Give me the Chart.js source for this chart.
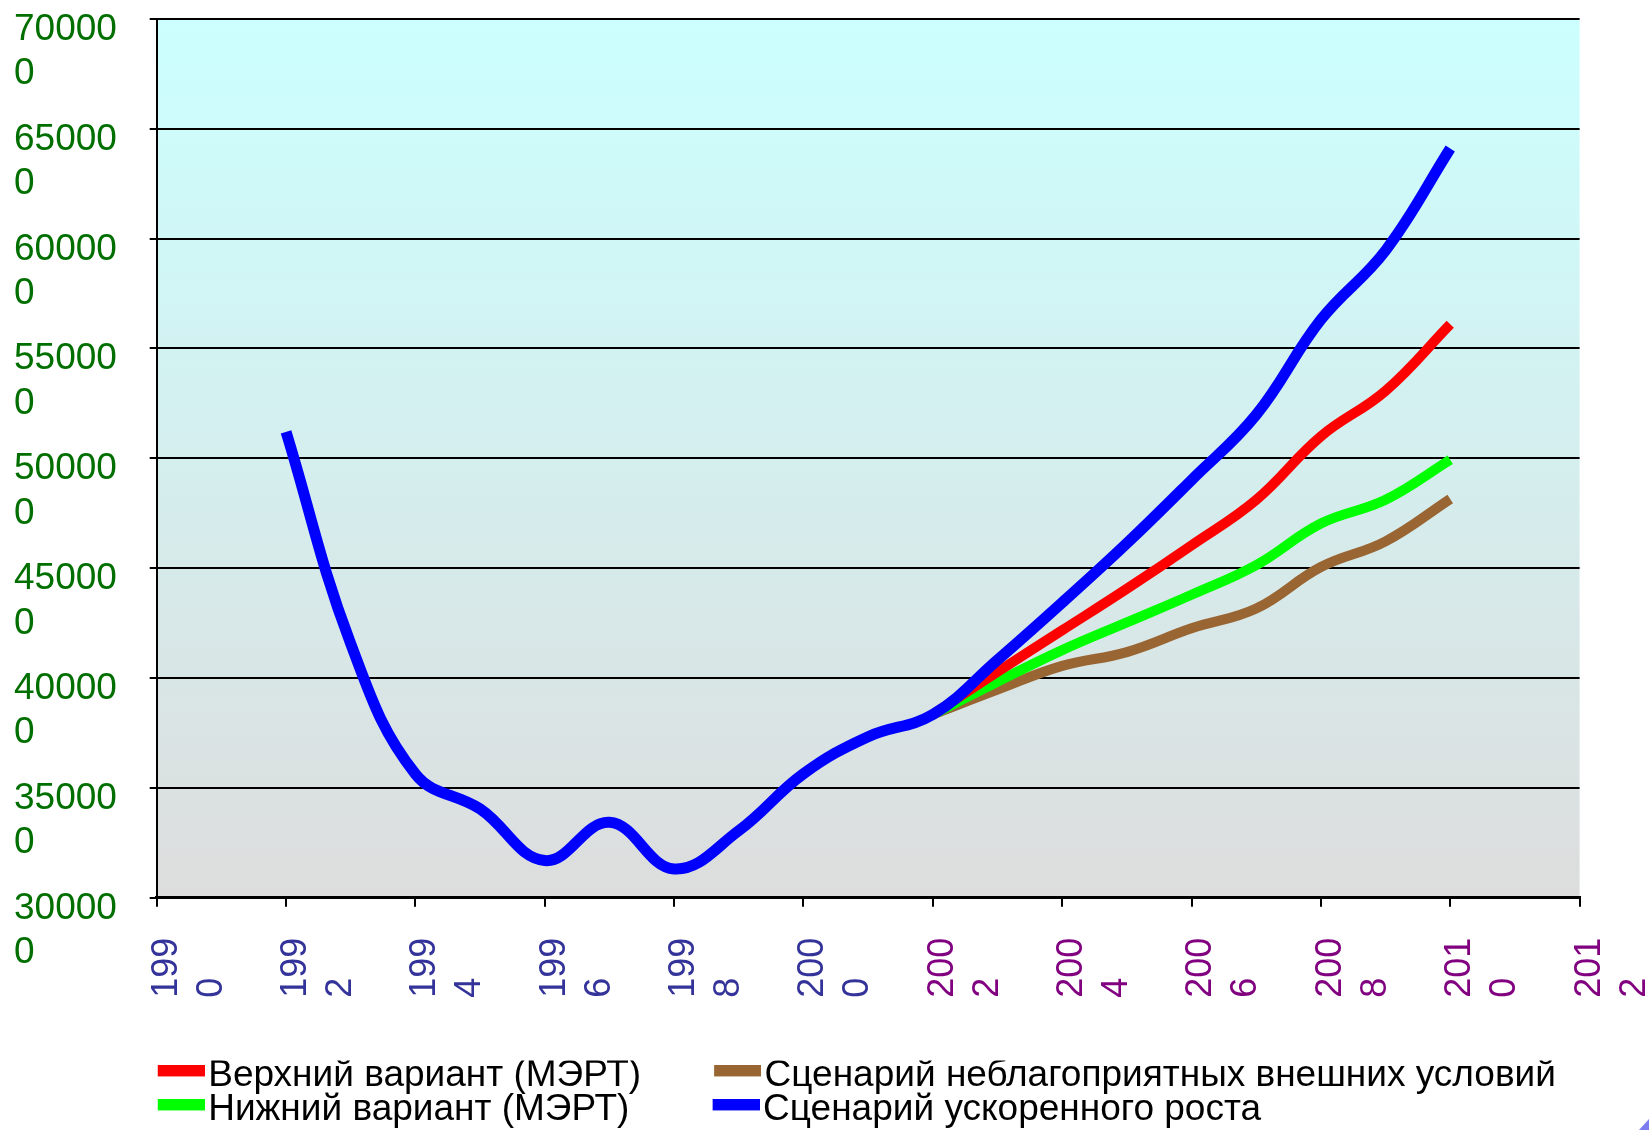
<!DOCTYPE html>
<html>
<head>
<meta charset="utf-8">
<script src="https://cdn.jsdelivr.net/npm/chart.js@4.4.1/dist/chart.umd.min.js"></script>
<style>
  html, body { margin: 0; padding: 0; background: #ffffff; }
  #wrap { width: 1649px; height: 1130px; position: relative; }
</style>
</head>
<body>
<div id="wrap"><canvas id="chart" width="1649" height="1130"></canvas></div>
<script>
// Years on the horizontal axis
const historyYears  = [1992, 1993, 1994, 1995, 1996, 1997, 1998, 1999, 2000, 2001,
                       2002, 2003, 2004, 2005, 2006, 2007, 2008, 2009, 2010];
const forecastYears = [2002, 2003, 2004, 2005, 2006, 2007, 2008, 2009, 2010];

// Series values
const acceleratedGrowth = [512000, 415600, 356300, 340400, 316900, 334300, 313100, 330500,
                           356400, 373300, 383400, 408200, 434300, 461300, 490100, 519800,
                           563100, 594600, 641000];
const upperVariant      = [383400, 402800, 421700, 440600, 460400, 481100, 510000, 530700, 561000];
const lowerVariant      = [383400, 398300, 412700, 425300, 437900, 451400, 470300, 481100, 499300];
const adverseScenario   = [383400, 394700, 405500, 411800, 422600, 431600, 450500, 462200, 481500];

// Series names
const nameAccelerated = 'Сценарий ускоренного роста';
const nameUpper       = 'Верхний вариант (МЭРТ)';
const nameLower       = 'Нижний вариант (МЭРТ)';
const nameAdverse     = 'Сценарий неблагоприятных внешних условий';

// Tick positions
const xTickYears  = [1990, 1992, 1994, 1996, 1998, 2000, 2002, 2004, 2006, 2008, 2010, 2012];
const yTickValues = [300000, 350000, 400000, 450000, 500000, 550000, 600000, 650000, 700000];

const FONT = "'Liberation Sans', Arial, sans-serif";
const LEGEND_SIZE = 37;

function toPoints(years, values) {
  return years.map((x, i) => ({ x: x, y: values[i] }));
}

// Datasets listed top-most first (dataset 0 is painted last)
const datasets = [
  { label: nameAccelerated, data: toPoints(historyYears, acceleratedGrowth),
    borderColor: '#0000FF', backgroundColor: '#0000FF', borderWidth: 11 },
  { label: nameUpper, data: toPoints(forecastYears, upperVariant),
    borderColor: '#FF0000', backgroundColor: '#FF0000', borderWidth: 10 },
  { label: nameLower, data: toPoints(forecastYears, lowerVariant),
    borderColor: '#00FF00', backgroundColor: '#00FF00', borderWidth: 10 },
  { label: nameAdverse, data: toPoints(forecastYears, adverseScenario),
    borderColor: '#996633', backgroundColor: '#996633', borderWidth: 10 }
];

// Legend reading order: two columns, two rows
const legendRank = [3, 0, 2, 1];
// text width reserved for first-column entries so the second column lines up
const legendColumnText = [0, 503.8, 507.8, 0];

// Flat colour bar used as the legend key, drawn right of its anchor
function legendSwatch(color) {
  const c = document.createElement('canvas');
  c.width = 66;
  c.height = 21;
  const g = c.getContext('2d');
  g.fillStyle = color;
  g.fillRect(19, 0, 47, 11);
  return c;
}

// Gradient fill behind the plot area
const plotBackground = {
  id: 'plotBackground',
  beforeDraw(chart) {
    const { ctx, chartArea: a } = chart;
    const g = ctx.createLinearGradient(0, a.top, 0, a.bottom);
    g.addColorStop(0, '#CCFFFF');
    g.addColorStop(1, '#DDDDDD');
    ctx.save();
    ctx.fillStyle = g;
    ctx.fillRect(a.left, a.top, a.right - a.left, a.bottom - a.top);
    ctx.restore();
  },
  afterDraw(chart) {
    // small corner ornament in the bottom-right
    const { ctx, width, height } = chart;
    ctx.save();
    ctx.fillStyle = '#7C7CF0';
    ctx.beginPath();
    ctx.moveTo(width, height - 11);
    ctx.lineTo(width, height);
    ctx.lineTo(width - 10, height);
    ctx.closePath();
    ctx.fill();
    ctx.restore();
  }
};

new Chart(document.getElementById('chart'), {
  type: 'line',
  data: { datasets: datasets },
  plugins: [plotBackground],
  options: {
    responsive: false,
    animation: false,
    layout: { padding: { left: 14, right: 69.4, top: 18.9, bottom: 0 } },
    elements: {
      line: { tension: 0.4, borderCapStyle: 'butt', borderJoinStyle: 'round', fill: false },
      point: { radius: 0, hoverRadius: 0 }
    },
    scales: {
      x: {
        type: 'linear',
        min: 1990,
        max: 2012,
        afterBuildTicks(scale) { scale.ticks = xTickYears.map(v => ({ value: v })); },
        afterFit(scale) {
          scale.height = 162.7;
          scale.paddingLeft = 0;
          scale.paddingRight = 0;
        },
        border: { display: true, color: '#000000', width: 3 },
        grid: { drawOnChartArea: false, drawTicks: true, tickLength: 9, color: '#000000', lineWidth: 2 },
        ticks: {
          autoSkip: false,
          minRotation: 90,
          maxRotation: 90,
          padding: 31,
          labelOffset: 10,
          font: { family: FONT, size: 36, lineHeight: 1.25 },
          color: (ctx) => (ctx.tick && ctx.tick.value <= 2000 ? '#333399' : '#800080'),
          callback: (v) => {
            const s = String(v);
            return [s.slice(0, 3), s.slice(3) + '    '];
          }
        }
      },
      y: {
        type: 'linear',
        min: 300000,
        max: 700000,
        afterBuildTicks(scale) { scale.ticks = yTickValues.map(v => ({ value: v })); },
        afterFit(scale) {
          scale.width = 142.7;
          scale.paddingTop = 0;
          scale.paddingBottom = 0;
        },
        border: { display: true, color: '#000000', width: 2 },
        grid: { drawOnChartArea: true, drawTicks: true, tickLength: 7, color: '#000000', lineWidth: 2 },
        ticks: {
          crossAlign: 'far',
          labelOffset: 33,
          font: { family: FONT, size: 37, lineHeight: 1.2 },
          color: '#006F00',
          callback: (v) => {
            const s = String(v);
            return [s.slice(0, 5), s.slice(5)];
          }
        }
      }
    },
    plugins: {
      tooltip: { enabled: false },
      legend: {
        position: 'bottom',
        align: 'start',
        fullSize: false,
        maxHeight: 69.6,
        labels: {
          font: { family: FONT, size: LEGEND_SIZE },
          color: '#000000',
          usePointStyle: true,
          pointStyleWidth: 36,
          boxHeight: 11,
          padding: -3,
          generateLabels(chart) {
            const items = Chart.defaults.plugins.legend.labels.generateLabels(chart);
            const ctx = chart.ctx;
            ctx.save();
            ctx.font = LEGEND_SIZE + 'px ' + FONT;
            items.forEach(it => {
              const i = it.datasetIndex;
              let text = chart.data.datasets[i].label;
              const target = legendColumnText[i];
              if (target) {
                while (ctx.measureText(text + ' ').width <= target + 5) text += ' ';
              }
              it.text = text;
              it.lineWidth = 0;
              it.pointStyle = legendSwatch(chart.data.datasets[i].borderColor);
              it.rotation = 0;
            });
            ctx.restore();
            return items;
          },
          sort: (a, b) => legendRank[a.datasetIndex] - legendRank[b.datasetIndex]
        }
      }
    }
  }
});
</script>
</body>
</html>
